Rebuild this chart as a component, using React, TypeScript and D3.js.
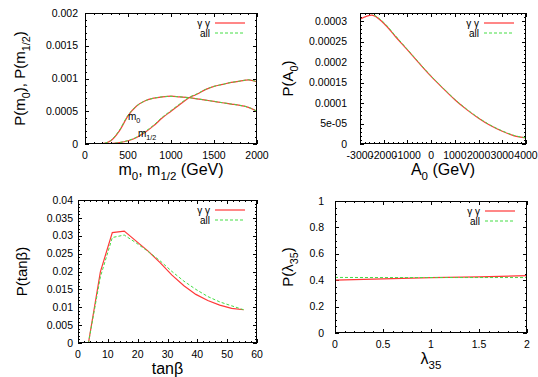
import React, { useEffect, useRef } from 'react';
import * as d3 from 'd3';

const W = 538;
const H = 377;
const RED = '#ff3838';
const GREEN = '#44dd44';
const FONT = '"Liberation Sans", Arial, sans-serif';

// panel 1: P(m0), P(m1/2)
const mGrid = [0, 100, 200, 300, 400, 500, 600, 700, 800, 900, 1000, 1100, 1200, 1300, 1400, 1500, 1600, 1700, 1800, 1900, 2000];
const m0GG = [0, 0, 0.000005, 0.00005, 0.0002, 0.00043, 0.00058, 0.00066, 0.0007, 0.00072, 0.00073, 0.00072, 0.00071, 0.00069, 0.00067, 0.00065, 0.00063, 0.00061, 0.00059, 0.00056, 0.0005];
const m0All = [0, 0, 0.000006, 0.000055, 0.00021, 0.00044, 0.00058, 0.00066, 0.0007, 0.00072, 0.000728, 0.00072, 0.000708, 0.00069, 0.00067, 0.00065, 0.00063, 0.00061, 0.00059, 0.00056, 0.0005];
const mhGG = [0, 0, 0, 0.000005, 0.00002, 0.00005, 0.0001, 0.00018, 0.00028, 0.0004, 0.0005, 0.0006, 0.0007, 0.00076, 0.00083, 0.00088, 0.00091, 0.00094, 0.00096, 0.00098, 0.00095];
const mhAll = [0, 0, 0, 0.000006, 0.000022, 0.000053, 0.000105, 0.00019, 0.00029, 0.00041, 0.00051, 0.00061, 0.000705, 0.000765, 0.000832, 0.00088, 0.00091, 0.00094, 0.00096, 0.00098, 0.00095];

// panel 2: P(A0)
const aGrid = [-3000, -2500, -2000, -1500, -1000, -500, 0, 500, 1000, 1500, 2000, 2500, 3000, 3500, 4000];
const aGG = [0.000305, 0.000315, 0.000295, 0.000262, 0.00023, 0.000197, 0.000165, 0.000136, 0.000108, 0.000084, 0.000063, 0.000045, 0.000031, 0.00002, 0.000015];
const aAll = [0.000325, 0.000318, 0.000297, 0.000264, 0.000231, 0.000198, 0.000166, 0.000137, 0.000109, 0.000085, 0.000064, 0.000046, 0.000032, 0.000021, 0.000015];

// panel 3: P(tan beta)
const tbGrid = [0, 3.5, 7.5, 11.5, 15.5, 19.5, 23.5, 27.5, 31.5, 35.5, 39.5, 43.5, 47.5, 51.5, 55.5];
const tbGG = [0, 0, 0.0199, 0.0309, 0.0313, 0.0285, 0.0257, 0.0225, 0.019, 0.016, 0.0136, 0.0119, 0.0106, 0.0097, 0.0093];
const tbAll = [0, 0, 0.0185, 0.0295, 0.0302, 0.028, 0.0256, 0.023, 0.02, 0.0173, 0.015, 0.013, 0.0115, 0.0104, 0.0093];

// panel 4: P(lambda35)
const lGrid = [0, 0.5, 1, 1.5, 2];
const lGG = [0.4, 0.41, 0.42, 0.425, 0.435];
const lAll = [0.421, 0.42, 0.42, 0.42, 0.42];

// tick labels
const m0Ticks = [0, 500, 1000, 1500, 2000];
const pmTicks = ['0', '0.0005', '0.001', '0.0015', '0.002'];
const a0Ticks = [-3000, -2000, -1000, 0, 1000, 2000, 3000, 4000];
const paTicks = ['0', '5e-05', '0.0001', '0.00015', '0.0002', '0.00025', '0.0003'];
const tbTicks = [0, 10, 20, 30, 40, 50, 60];
const ptbTicks = ['0', '0.005', '0.01', '0.015', '0.02', '0.025', '0.03', '0.035', '0.04'];
const lTicks = [0, 0.5, 1, 1.5, 2];
const plTicks = ['0', '0.2', '0.4', '0.6', '0.8', '1'];

type Seg = { t: string; sub?: boolean };

const richText = (sel: any, segs: Seg[], size: number) => {
  let shift = 0;
  segs.forEach(s => {
    const target = s.sub ? size * 0.3 : 0;
    sel.append('tspan')
      .attr('dy', target - shift)
      .attr('font-size', s.sub ? size * 0.72 : size)
      .text(s.t);
    shift = target;
  });
};

const panels = [
  {
    box: [85, 257, 13, 144], xd: [0, 2000], yd: [0, 0.002],
    xt: m0Ticks, xm: 100, yt: pmTicks.map(Number), yl: pmTicks, ym: 0.0001, gap: 7,
    curve: d3.curveMonotoneX,
    series: [[mGrid, m0GG, m0All], [mGrid, mhGG, mhAll]],
    xTitle: [{ t: 'm' }, { t: '0', sub: true }, { t: ', m' }, { t: '1/2', sub: true }, { t: ' (GeV)' }],
    yTitle: [{ t: 'P(m' }, { t: '0', sub: true }, { t: '), P(m' }, { t: '1/2', sub: true }, { t: ')' }],
    yTitleX: 25,
    notes: [
      { x: 500, y: 0.000366, segs: [{ t: 'm' }, { t: '0', sub: true }] },
      { x: 615, y: 0.00011, segs: [{ t: 'm' }, { t: '1/2', sub: true }] },
    ],
  },
  {
    box: [360, 526, 13, 144], xd: [-3000, 4000], yd: [0, 0.00032],
    xt: a0Ticks, xm: 200, yt: paTicks.map(Number), yl: paTicks, ym: 0.00001, gap: 13,
    curve: d3.curveMonotoneX,
    series: [[aGrid, aGG, aAll]],
    xTitle: [{ t: 'A' }, { t: '0', sub: true }, { t: ' (GeV)' }],
    yTitle: [{ t: 'P(A' }, { t: '0', sub: true }, { t: ')' }],
    yTitleX: 293,
    notes: [],
  },
  {
    box: [78, 257, 200, 343], xd: [0, 60], yd: [0, 0.04],
    xt: tbTicks, xm: 2, yt: ptbTicks.map(Number), yl: ptbTicks, ym: 0.001, gap: 5,
    curve: d3.curveLinear,
    series: [[tbGrid, tbGG, tbAll]],
    xTitle: [{ t: 'tanβ' }],
    yTitle: [{ t: 'P(tanβ)' }],
    yTitleX: 27,
    notes: [],
  },
  {
    box: [335, 527, 201, 333], xd: [0, 2], yd: [0, 1],
    xt: lTicks, xm: 0.1, yt: plTicks.map(Number), yl: plTicks, ym: 0.05, gap: 11,
    curve: d3.curveLinear,
    series: [[lGrid, lGG, lAll]],
    xTitle: [{ t: 'λ' }, { t: '35', sub: true }],
    yTitle: [{ t: 'P(λ' }, { t: '35', sub: true }, { t: ')' }],
    yTitleX: 293,
    notes: [],
  },
];

const App = () => {
  const svgRef = useRef<SVGSVGElement>(null);

  useEffect(() => {
    const svg = d3.select(svgRef.current);
    svg.selectAll('*').remove();

    panels.forEach((p, i) => {
      const [l, r, t, b] = p.box;
      const x = d3.scaleLinear().domain(p.xd).range([l, r]);
      const y = d3.scaleLinear().domain(p.yd).range([b, t]);
      const g = svg.append('g');

      const clipId = `clip${i}`;
      g.append('clipPath').attr('id', clipId)
        .append('rect').attr('x', l).attr('y', t).attr('width', r - l).attr('height', b - t);

      // minor + major ticks on all four sides, pointing in
      const tickG = g.append('g').attr('stroke', '#000').attr('stroke-width', 1);
      const xMinor = d3.range(p.xd[0], p.xd[1] + p.xm / 2, p.xm);
      const yMinor = d3.range(p.yd[0], p.yd[1] + p.ym / 2, p.ym);
      xMinor.forEach(v => {
        const major = p.xt.some(m => Math.abs(m - v) < p.xm / 10);
        const len = major ? 4 : 2;
        const px = Math.round(x(v)) + 0.5;
        tickG.append('line').attr('x1', px).attr('x2', px).attr('y1', b).attr('y2', b - len);
        tickG.append('line').attr('x1', px).attr('x2', px).attr('y1', t).attr('y2', t + len);
      });
      yMinor.forEach(v => {
        const major = p.yt.some(m => Math.abs(m - v) < p.ym / 10);
        const len = major ? 4 : 2;
        const py = Math.round(y(v)) + 0.5;
        tickG.append('line').attr('x1', l).attr('x2', l + len).attr('y1', py).attr('y2', py);
        tickG.append('line').attr('x1', r).attr('x2', r - len).attr('y1', py).attr('y2', py);
      });

      // tick labels
      g.append('g').selectAll('text').data(p.xt).enter().append('text')
        .attr('x', d => x(d)).attr('y', b + 14.5)
        .attr('text-anchor', 'middle').attr('font-size', 10.5).attr('font-family', FONT)
        .text(d => String(d));
      g.append('g').selectAll('text').data(p.yl).enter().append('text')
        .attr('x', l - p.gap).attr('y', d => y(Number(d)))
        .attr('dy', '0.35em')
        .attr('text-anchor', 'end').attr('font-size', 10.5).attr('font-family', FONT)
        .text(d => d);

      // curves: gamma gamma first, "all" on top
      const lines = g.append('g').attr('clip-path', `url(#${clipId})`).attr('fill', 'none');
      p.series.forEach(([xs, gg, all]) => {
        const line = d3.line<number>().x((_, k) => x(xs[k])).y(d => y(d)).curve(p.curve);
        lines.append('path').attr('d', line(gg)).attr('stroke', RED).attr('stroke-width', 1.2);
        lines.append('path').attr('d', line(all)).attr('stroke', GREEN).attr('stroke-width', 1)
          .attr('stroke-dasharray', '3,2');
      });

      // frame
      g.append('rect').attr('x', l + 0.5).attr('y', t + 0.5).attr('width', r - l - 1).attr('height', b - t - 1)
        .attr('fill', 'none').attr('stroke', '#000').attr('stroke-width', 1);

      // legend
      const lg = g.append('g').attr('font-family', FONT).attr('font-size', 10);
      lg.append('text').attr('x', r - 47).attr('y', t + 10).attr('dy', '0.35em').attr('text-anchor', 'end').text('γ γ');
      lg.append('line').attr('x1', r - 42).attr('x2', r - 12).attr('y1', t + 10).attr('y2', t + 10)
        .attr('stroke', RED).attr('stroke-width', 1.2);
      lg.append('text').attr('x', r - 47).attr('y', t + 20).attr('dy', '0.35em').attr('text-anchor', 'end').text('all');
      lg.append('line').attr('x1', r - 42).attr('x2', r - 12).attr('y1', t + 20).attr('y2', t + 20)
        .attr('stroke', GREEN).attr('stroke-dasharray', '3,2');

      // axis titles
      const xt = g.append('text').attr('x', (l + r) / 2).attr('y', b + 31)
        .attr('text-anchor', 'middle').attr('font-family', FONT);
      richText(xt, p.xTitle, 16);
      const yt = g.append('text')
        .attr('transform', `translate(${p.yTitleX},${(t + b) / 2}) rotate(-90)`)
        .attr('text-anchor', 'middle').attr('font-family', FONT);
      richText(yt, p.yTitle, 15);

      // curve annotations
      p.notes.forEach(n => {
        const nt = g.append('text').attr('x', x(n.x)).attr('y', y(n.y)).attr('font-family', FONT);
        richText(nt, n.segs, 10);
      });
    });
  }, []);

  return (
    <svg ref={svgRef} width={W} height={H}
      style={{ position: 'absolute', left: 0, top: 0, background: '#fff' }} />
  );
};

export default App;
